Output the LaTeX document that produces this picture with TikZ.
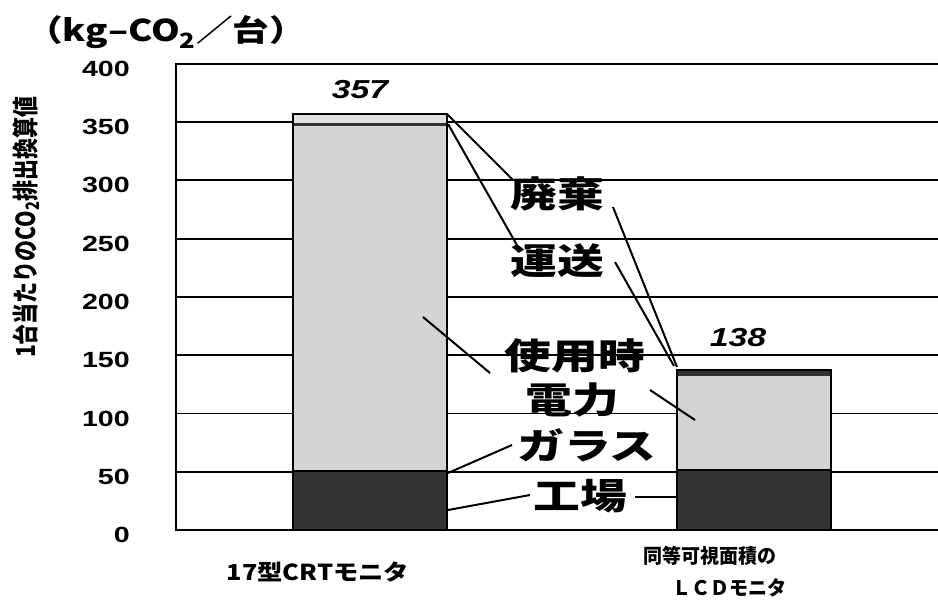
\documentclass[tikz,border=0pt]{standalone}
\usepackage{fontspec}
\setmainfont{Noto Sans CJK JP}
\newfontfamily\latf{Liberation Sans}
\newcommand\sx[1]{\scalebox{1.3}[1]{#1}}
\begin{document}
\begin{tikzpicture}[x=1pt,y=-1pt,
  gridln/.style={line width=1.8pt},
  barout/.style={draw=black,line width=2.8pt},
  lightfill/.style={fill=black!17},
  darkfill/.style={fill=black!80},
  leader/.style={line width=2pt},
  tick/.style={anchor=east,inner sep=0pt,font=\latf\bfseries\fontsize{22}{22}\selectfont},
  lbl/.style={inner sep=0pt,font=\bfseries\fontsize{36}{36}\selectfont},
  val/.style={inner sep=0pt,font=\latf\bfseries\itshape\fontsize{26}{26}\selectfont},
  cat/.style={inner sep=0pt,font=\bfseries\fontsize{22}{22}\selectfont}]
\useasboundingbox (0,0) rectangle (938,614);
\fill[white] (0,0) rectangle (938,614);
% gridlines
\foreach \v in {50,100,...,350}{
  \draw[gridln] (176,{530-\v*1.1655}) -- (938,{530-\v*1.1655});
}
\draw[gridln] (938,64) -- (176,64) -- (176,530) -- (938,530);
% tick labels
\foreach \v in {0,50,...,400}{
  \node[tick] (t\v) at (130,{535-\v*1.1655}) {\sx{\v}};
}
% CRT bar
\fill[darkfill] (293,471) rectangle (447,530);
\fill[lightfill] (293,126) rectangle (447,471);
\fill[darkfill] (293,123) rectangle (447,126);
\fill[fill=black!12] (293,114) rectangle (447,123);
\draw[line width=1.6pt] (293,471) -- (447,471);
\draw[barout] (293,114) rectangle (447,530);
% LCD bar
\fill[darkfill] (677,470) rectangle (831,530);
\fill[lightfill] (677,376) rectangle (831,470);
\fill[darkfill] (677,370) rectangle (831,376);
\draw[line width=1.6pt] (677,470) -- (831,470);
\draw[barout] (677,370) rectangle (831,530);
% values
\node[val] (v357) at (360,90) {\sx{357}};
\node[val] (v138) at (738,338) {\sx{138}};
% labels
\node[lbl] (hai) at (557,194) {\sx{廃棄}};
\node[lbl] (un) at (557,261) {\sx{運送}};
\node[lbl] (shi) at (575,356) {\sx{使用時}};
\node[lbl] (den) at (572,400) {\sx{電力}};
\node[lbl] (gla) at (587,445) {\sx{ガラス}};
\node[lbl] (kou) at (580,496) {\sx{工場}};
% leader coordinates
\coordinate (hA) at (447,114); \coordinate (hB) at (513,180);
\coordinate (hC) at (613,207); \coordinate (hD) at (677,367);
\coordinate (uA) at (448,124); \coordinate (uB) at (518,247);
\coordinate (uC) at (615,262); \coordinate (uD) at (674,366);
\coordinate (sA) at (423,317); \coordinate (sB) at (490,373);
\coordinate (dA) at (650,390); \coordinate (dB) at (695,420);
\coordinate (gA) at (448,473); \coordinate (gB) at (512,445);
\coordinate (kA) at (448,510); \coordinate (kB) at (530,495);
\coordinate (kC) at (635,497); \coordinate (kD) at (677,497);
\draw[leader] (hA) -- (hB);
\draw[leader] (hC) -- (hD);
\draw[leader] (uA) -- (uB);
\draw[leader] (uC) -- (uD);
\draw[leader] (sA) -- (sB);
\draw[leader] (dA) -- (dB);
\draw[leader] (gA) -- (gB);
\draw[leader] (kA) -- (kB);
\draw[leader] (kC) -- (kD);
% axis titles
\node[inner sep=0pt,font=\bfseries\fontsize{30}{30}\selectfont] (unit) at (166,32) {\scalebox{1.22}[1]{（kg–CO\textsubscript{2}／台）}};
\node[inner sep=0pt,rotate=90,font=\bfseries\fontsize{21}{21}\selectfont] (ytitle) at (26,227) {\scalebox{1}[1.25]{1台当たりのCO\textsubscript{2}排出換算値}};
% categories
\node[cat] (c1) at (318,572) {\scalebox{1.15}[1]{17型CRTモニタ}};
\node[inner sep=0pt,font=\bfseries\fontsize{20}{20}\selectfont] (c2a) at (710,556) {\scalebox{0.95}[1]{同等可視面積の}};
\node[inner sep=0pt,font=\bfseries\fontsize{20}{20}\selectfont] (c2b) at (729,588) {\scalebox{0.95}[1]{ＬＣＤモニタ}};
\end{tikzpicture}
\end{document}
